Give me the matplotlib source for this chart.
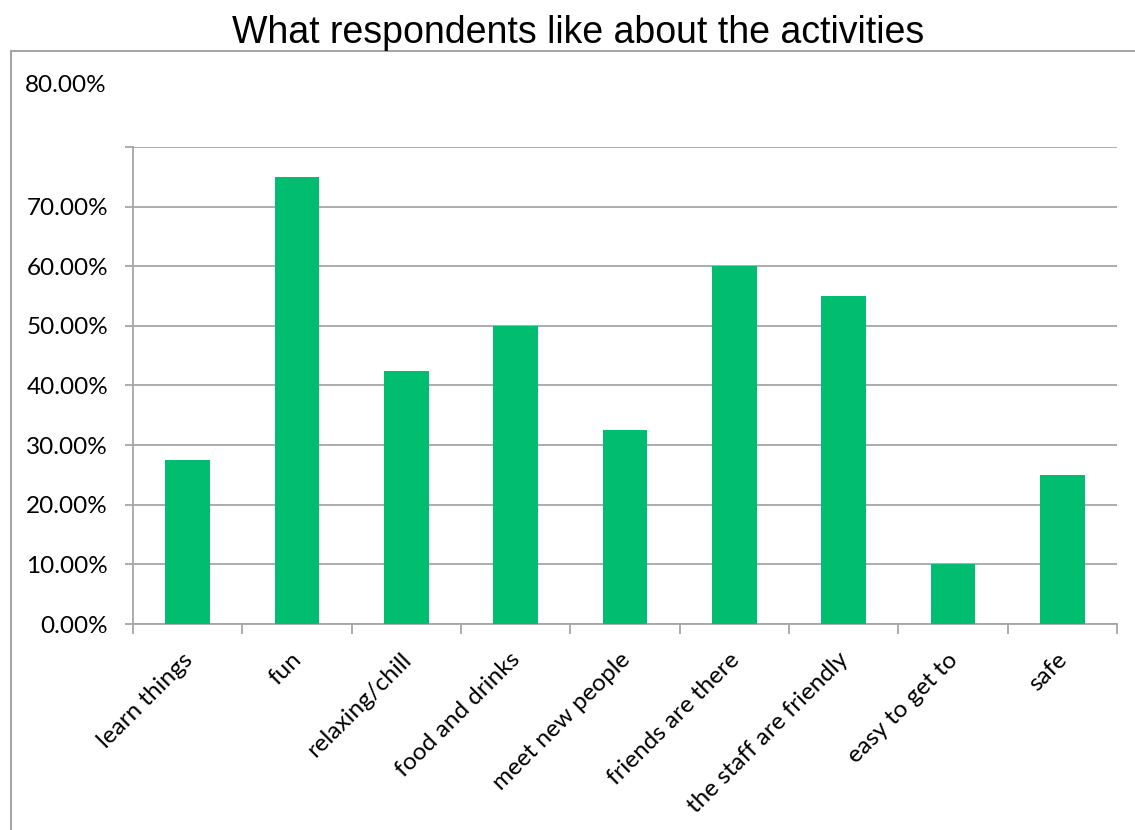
import matplotlib.pyplot as plt
import matplotlib.transforms as mtransforms
from matplotlib.lines import Line2D
from matplotlib.ticker import FuncFormatter
import numpy as np

categories = ['learn things', 'fun', 'relaxing/chill', 'food and drinks',
              'meet new people', 'friends are there', 'the staff are friendly',
              'easy to get to', 'safe']
shares = [0.275, 0.75, 0.425, 0.50, 0.325, 0.60, 0.55, 0.10, 0.25]
ytick_values = [0.0, 0.1, 0.2, 0.3, 0.4, 0.5, 0.6, 0.7, 0.8]

bar_color = '#00BD70'
grid_color = '#A6A6A6'
label_font = ['Lato', 'DejaVu Sans']
label_size = 17.5

fig = plt.figure(figsize=(11.35, 8.3), dpi=100)
ax = fig.add_axes([133/1135, 1 - 624/830, (1117 - 133)/1135, (624 - 147)/830])

x = np.arange(len(categories))
ax.bar(x, shares, width=0.41, color=bar_color, zorder=3)

ax.set_xlim(-0.5, len(categories) - 0.5)
ax.set_ylim(0, 0.8)

# horizontal gridlines, drawn under the bars
ax.set_yticks(ytick_values)
ax.yaxis.grid(True, color=grid_color, linewidth=1.3, zorder=0)
ax.yaxis.set_major_formatter(FuncFormatter(
    lambda v, p: '' if v > 0.75 else f'{v*100:.2f}%'))
ax.tick_params(axis='y', length=6, width=1.3, color=grid_color, pad=12,
               labelsize=label_size)

# category ticks sit on the boundaries between bars
ax.set_xticks(np.arange(len(categories) + 1) - 0.5, minor=False)
ax.set_xticklabels([])
ax.set_xticks(x, minor=True)
ax.set_xticklabels(categories, minor=True, rotation=45, ha='right',
                   va='top', rotation_mode='anchor')
ax.tick_params(axis='x', which='major', length=7, width=1.3, color=grid_color)
ax.tick_params(axis='x', which='minor', length=0, pad=18, labelsize=label_size)

# nudge the slanted labels a little to the left
shift = mtransforms.ScaledTranslation(-6/100, 0, fig.dpi_scale_trans)
for lab in ax.get_xticklabels(minor=True):
    lab.set_fontfamily(label_font)
    lab.set_transform(lab.get_transform() + shift)
for lab in ax.get_yticklabels():
    lab.set_fontfamily(label_font)

for side in ['top', 'right']:
    ax.spines[side].set_visible(False)
for side in ['left', 'bottom']:
    ax.spines[side].set_color(grid_color)
    ax.spines[side].set_linewidth(1.3)

# the 80% label floats above the plot area
fig.text(107/1135, 1 - 85/830, '80.00%', ha='right', va='center',
         fontsize=label_size, family=label_font)

fig.text(578/1135, 1 - 33/830, 'What respondents like about the activities',
         ha='center', va='center', fontsize=27, family='Liberation Sans')

# chart frame
fig.add_artist(Line2D([11/1135, 11/1135], [0, 1 - 51/830],
                      color=grid_color, linewidth=1.5))
fig.add_artist(Line2D([11/1135, 1], [1 - 51/830, 1 - 51/830],
                      color=grid_color, linewidth=1.5))

fig.savefig('out.png', dpi=100)
